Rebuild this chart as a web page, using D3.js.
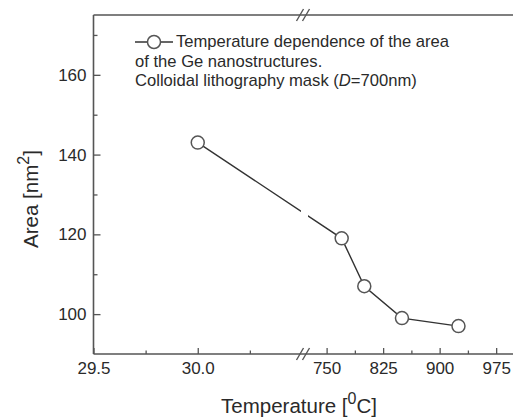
<!DOCTYPE html>
<html><head><meta charset="utf-8">
<script src="https://cdn.jsdelivr.net/npm/d3@7"></script>
<style>body{margin:0;background:#fff;} svg{display:block;font-family:"Liberation Sans",Arial,sans-serif;}</style>
</head><body>
<svg id="c" width="513" height="420"></svg>
<script>
// Data
const temperatures = [30.0, 770, 800, 850, 925];
const areas = [143, 119, 107, 99, 97];
const leftTicks = [29.5, 30.0];
const leftMinor = [29.75, 30.25];
const rightTicks = [750, 825, 900, 975];
const rightMinor = [787.5, 862.5, 937.5];
const yTicks = [100, 120, 140, 160];
const yMinor = [110, 130, 150, 170];

(function(){
const svg = d3.select("#c");
const axisColor = "#555", textColor = "#2a2a2a";
const pLeft = 93.5, pTop = 15, pBottom = 354, pRight = 515;
const breakX = 303;

const xL = d3.scaleLinear().domain([29.5, 30.5]).range([pLeft, 302]);
const xR = d3.scaleLinear().domain([720, 1000]).range([304, pRight]);
const xp = v => v < 100 ? xL(v) : xR(v);
const y = d3.scaleLinear().domain([90, 175]).range([pBottom, pTop]);

// Frame lines
const g = svg.append("g");
g.append("line").attr("x1", pLeft).attr("x2", pLeft).attr("y1", pTop).attr("y2", pBottom).attr("stroke", axisColor).attr("stroke-width", 1.6);
g.append("line").attr("x1", pLeft).attr("x2", 513).attr("y1", pBottom).attr("y2", pBottom).attr("stroke", axisColor).attr("stroke-width", 1.6);
g.append("line").attr("x1", pLeft).attr("x2", 513).attr("y1", pTop).attr("y2", pTop).attr("stroke", axisColor).attr("stroke-width", 1.6);

// X axes (ticks inward)
function xAxis(scale, ticks, minor, fmt) {
  const ax = svg.append("g").attr("transform", `translate(0,${pBottom})`);
  ax.call(d3.axisBottom(scale).tickValues(ticks).tickSize(-6).tickPadding(8).tickFormat(d3.format(fmt)));
  ax.select(".domain").remove();
  ax.selectAll(".tick line").attr("stroke", axisColor).attr("stroke-width", 1.3);
  ax.selectAll(".tick text").attr("fill", textColor).style("font-size", "17px");
  const mx = svg.append("g").attr("transform", `translate(0,${pBottom})`);
  mx.call(d3.axisBottom(scale).tickValues(minor).tickSize(-3.5).tickFormat(""));
  mx.select(".domain").remove();
  mx.selectAll(".tick line").attr("stroke", axisColor).attr("stroke-width", 1.3);
}
xAxis(xL, leftTicks, leftMinor, ".1f");
xAxis(xR, rightTicks, rightMinor, "d");

// Y axis
const ya = svg.append("g").attr("transform", `translate(${pLeft},0)`);
ya.call(d3.axisLeft(y).tickValues(yTicks).tickSize(-7).tickPadding(7));
ya.select(".domain").remove();
ya.selectAll(".tick line").attr("stroke", axisColor).attr("stroke-width", 1.3);
ya.selectAll(".tick text").attr("fill", textColor).style("font-size", "17px");
const ym = svg.append("g").attr("transform", `translate(${pLeft},0)`);
ym.call(d3.axisLeft(y).tickValues(yMinor).tickSize(-4).tickFormat(""));
ym.select(".domain").remove();
ym.selectAll(".tick line").attr("stroke", axisColor).attr("stroke-width", 1.3);

// Break marks
[pTop, pBottom].forEach(yy => {
  [-3, 3].forEach(dx => {
    svg.append("line").attr("x1", breakX + dx - 3.5).attr("y1", yy + 6)
      .attr("x2", breakX + dx + 3.5).attr("y2", yy - 6)
      .attr("stroke", axisColor).attr("stroke-width", 1.4);
  });
});

// Data line with gap at the break
const defs = svg.append("defs");
const cp = defs.append("clipPath").attr("id", "gapclip");
cp.append("rect").attr("x", 0).attr("y", 0).attr("width", 301).attr("height", 420);
cp.append("rect").attr("x", 308).attr("y", 0).attr("width", 300).attr("height", 420);
const pts = temperatures.map((t, i) => [xp(t), y(areas[i])]);
svg.append("path").attr("d", d3.line()(pts)).attr("fill", "none")
  .attr("stroke", "#333").attr("stroke-width", 1.4).attr("clip-path", "url(#gapclip)");
svg.selectAll("circle.pt").data(pts).join("circle").attr("class", "pt")
  .attr("cx", d => d[0]).attr("cy", d => d[1]).attr("r", 6.5)
  .attr("fill", "#fff").attr("stroke", "#555").attr("stroke-width", 1.5);

// Legend
svg.append("line").attr("x1", 135).attr("x2", 173).attr("y1", 42).attr("y2", 42).attr("stroke", "#333").attr("stroke-width", 1.4);
svg.append("circle").attr("cx", 154).attr("cy", 42).attr("r", 6.5).attr("fill", "#fff").attr("stroke", "#555").attr("stroke-width", 1.5);
const lg = svg.append("g").attr("fill", textColor).style("font-size", "16.6px");
lg.append("text").attr("x", 176).attr("y", 47).text("Temperature dependence of the area");
lg.append("text").attr("x", 135).attr("y", 66.5).text("of the Ge nanostructures.");
const l3 = lg.append("text").attr("x", 135).attr("y", 86);
l3.append("tspan").text("Colloidal lithography mask (");
l3.append("tspan").attr("font-style", "italic").text("D");
l3.append("tspan").text("=700nm)");

// Axis titles
const xt = svg.append("text").attr("x", 299).attr("y", 413).attr("text-anchor", "middle")
  .attr("fill", textColor).style("font-size", "20.5px");
xt.append("tspan").text("Temperature [");
xt.append("tspan").attr("dy", -9).style("font-size", "16px").text("0");
xt.append("tspan").attr("dy", 9).text("C]");
const yt = svg.append("text").attr("transform", "translate(38,199) rotate(-90)").attr("text-anchor", "middle")
  .attr("fill", textColor).style("font-size", "20.5px");
yt.append("tspan").text("Area [nm");
yt.append("tspan").attr("dy", -9).style("font-size", "16px").text("2");
yt.append("tspan").attr("dy", 9).text("]");
})();
</script>
</body></html>
